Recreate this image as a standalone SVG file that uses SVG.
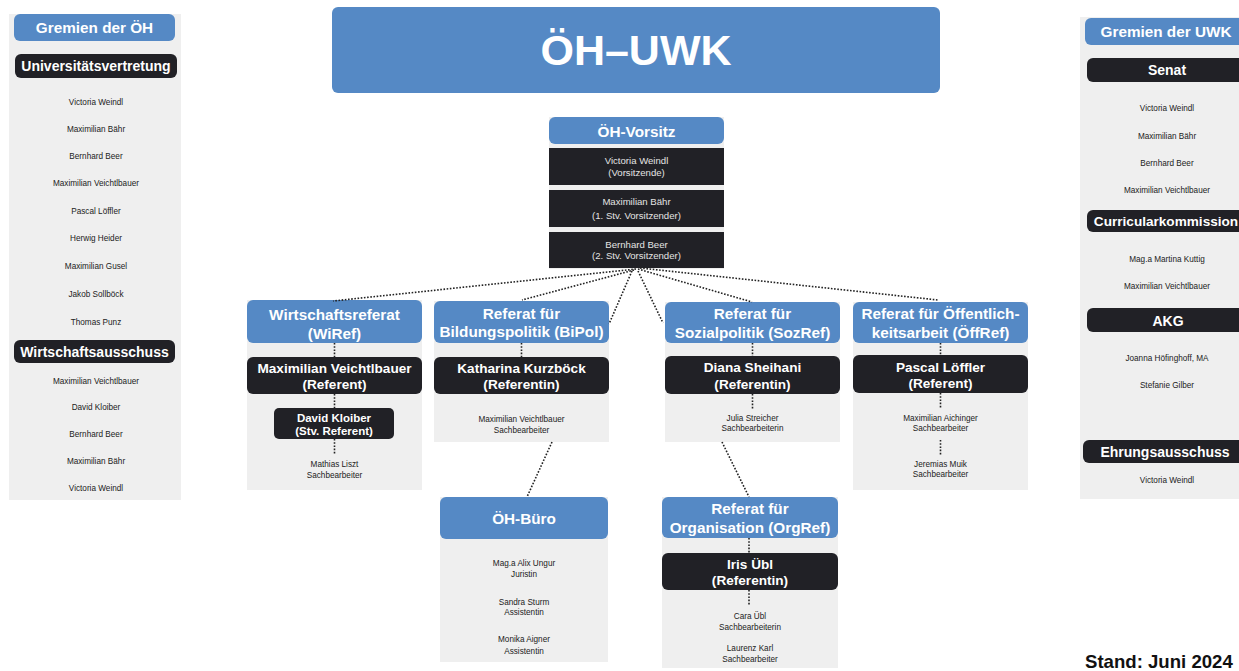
<svg xmlns="http://www.w3.org/2000/svg" width="1239" height="671" viewBox="0 0 1239 671">
<style>
.bg{fill:#efefef}
.blue{fill:#5589c5}
.dark{fill:#212126}
.ht{font-family:"Liberation Sans",Arial,sans-serif;font-weight:bold;fill:#fff;text-anchor:middle}
.hb{font-size:15.3px}
.hd{font-size:14px}
.rf{font-size:13.6px}
.st{font-size:11.5px}
.nm{font-family:"Liberation Sans",Arial,sans-serif;font-size:8.2px;fill:#222;text-anchor:middle}
.vt{font-family:"Liberation Sans",Arial,sans-serif;font-size:9.6px;fill:#e4e4e4;text-anchor:middle}
.dot{stroke:#222;stroke-width:1.6;stroke-dasharray:1.6 1.6;fill:none}
</style>
<rect width="1239" height="671" fill="#fff"/>

<g id="title">
<rect x="332" y="7" width="608" height="86" rx="6" class="blue"/>
<text x="636" y="65" class="ht" style="font-size:43px">ÖH–UWK</text>
</g>

<g id="gremien-oeh">
<rect x="9" y="14" width="172" height="486" class="bg"/>
<rect x="14" y="14" width="161" height="27" rx="6" class="blue"/>
<text x="94.5" y="33.3" class="ht hb">Gremien der ÖH</text>
<rect x="15" y="54" width="162" height="24" rx="6" class="dark"/>
<text x="96" y="70.7" class="ht hd">Universitätsvertretung</text>
<text x="96" y="104.5" class="nm">Victoria Weindl</text>
<text x="96" y="132" class="nm">Maximilian Bähr</text>
<text x="96" y="159" class="nm">Bernhard Beer</text>
<text x="96" y="186" class="nm">Maximilian Veichtlbauer</text>
<text x="96" y="213.5" class="nm">Pascal Löffler</text>
<text x="96" y="240.5" class="nm">Herwig Heider</text>
<text x="96" y="268.5" class="nm">Maximilian Gusel</text>
<text x="96" y="297" class="nm">Jakob Sollböck</text>
<text x="96" y="325" class="nm">Thomas Punz</text>
<rect x="14" y="340" width="161" height="23" rx="6" class="dark"/>
<text x="94.5" y="356.7" class="ht hd">Wirtschaftsausschuss</text>
<text x="96" y="383.5" class="nm">Maximilian Veichtlbauer</text>
<text x="96" y="410" class="nm">David Kloiber</text>
<text x="96" y="437" class="nm">Bernhard Beer</text>
<text x="96" y="464" class="nm">Maximilian Bähr</text>
<text x="96" y="490.5" class="nm">Victoria Weindl</text>
</g>

<g id="gremien-uwk">
<rect x="1080" y="17" width="170" height="482" class="bg"/>
<rect x="1085" y="18" width="165" height="27" rx="6" class="blue"/>
<text x="1166" y="36.7" class="ht hb">Gremien der UWK</text>
<rect x="1087" y="58" width="165" height="24" rx="6" class="dark"/>
<text x="1167" y="75" class="ht hd">Senat</text>
<text x="1167" y="111" class="nm">Victoria Weindl</text>
<text x="1167" y="139" class="nm">Maximilian Bähr</text>
<text x="1167" y="165.5" class="nm">Bernhard Beer</text>
<text x="1167" y="193" class="nm">Maximilian Veichtlbauer</text>
<rect x="1087" y="210" width="165" height="22" rx="6" class="dark"/>
<text x="1166" y="225.7" class="ht" style="font-size:13.6px">Curricularkommission</text>
<text x="1167" y="262" class="nm">Mag.a Martina Kuttig</text>
<text x="1167" y="288.5" class="nm">Maximilian Veichtlbauer</text>
<rect x="1087" y="308" width="165" height="24" rx="6" class="dark"/>
<text x="1168" y="325.7" class="ht hd">AKG</text>
<text x="1167" y="361" class="nm">Joanna Höfinghoff, MA</text>
<text x="1167" y="388" class="nm">Stefanie Gilber</text>
<rect x="1083" y="440" width="167" height="23" rx="6" class="dark"/>
<text x="1165" y="457.3" class="ht hd">Ehrungsausschuss</text>
<text x="1167" y="483" class="nm">Victoria Weindl</text>
</g>

<g id="vorsitz">
<rect x="549" y="117" width="175" height="152" class="bg"/>
<rect x="549" y="117" width="175" height="27" rx="6" class="blue"/>
<text x="636.5" y="136.5" class="ht hb">ÖH-Vorsitz</text>
<rect x="549" y="148" width="175" height="37" class="dark"/>
<text x="636.5" y="164" class="vt">Victoria Weindl</text>
<text x="636.5" y="175.5" class="vt">(Vorsitzende)</text>
<rect x="549" y="190" width="175" height="37" class="dark"/>
<text x="636.5" y="205" class="vt">Maximilian Bähr</text>
<text x="636.5" y="218.5" class="vt">(1. Stv. Vorsitzender)</text>
<rect x="549" y="232" width="175" height="36" class="dark"/>
<text x="636.5" y="247.5" class="vt">Bernhard Beer</text>
<text x="636.5" y="259" class="vt">(2. Stv. Vorsitzender)</text>
</g>

<g id="wiref">
<rect x="247" y="300" width="175" height="190" class="bg"/>
<rect x="247" y="300" width="175" height="43" rx="6" class="blue"/>
<text x="334.5" y="319.5" class="ht hb">Wirtschaftsreferat</text>
<text x="334.5" y="338.5" class="ht hb">(WiRef)</text>
<rect x="247" y="357" width="175" height="37" rx="6" class="dark"/>
<text x="334.5" y="373.3" class="ht rf">Maximilian Veichtlbauer</text>
<text x="334.5" y="389" class="ht rf">(Referent)</text>
<rect x="274" y="408" width="120" height="31" rx="5" class="dark"/>
<text x="334" y="421.5" class="ht st">David Kloiber</text>
<text x="334" y="435" class="ht st">(Stv. Referent)</text>
<text x="334.5" y="467" class="nm">Mathias Liszt</text>
<text x="334.5" y="477.5" class="nm">Sachbearbeiter</text>
</g>

<g id="bipol">
<rect x="434" y="301" width="175" height="141" class="bg"/>
<rect x="434" y="301" width="175" height="42" rx="6" class="blue"/>
<text x="521.5" y="318.5" class="ht hb">Referat für</text>
<text x="521.5" y="337" class="ht hb">Bildungspolitik (BiPol)</text>
<rect x="434" y="357" width="175" height="37" rx="6" class="dark"/>
<text x="521.5" y="372.5" class="ht rf">Katharina Kurzböck</text>
<text x="521.5" y="389.3" class="ht rf">(Referentin)</text>
<text x="521.5" y="422.3" class="nm">Maximilian Veichtlbauer</text>
<text x="521.5" y="433" class="nm">Sachbearbeiter</text>
</g>

<g id="sozref">
<rect x="665" y="302" width="175" height="140" class="bg"/>
<rect x="665" y="302" width="175" height="41" rx="6" class="blue"/>
<text x="752.5" y="319" class="ht hb">Referat für</text>
<text x="752.5" y="338" class="ht hb">Sozialpolitik (SozRef)</text>
<rect x="665" y="356" width="175" height="38" rx="6" class="dark"/>
<text x="752.5" y="372" class="ht rf">Diana Sheihani</text>
<text x="752.5" y="389" class="ht rf">(Referentin)</text>
<text x="752.5" y="421.3" class="nm">Julia Streicher</text>
<text x="752.5" y="431.3" class="nm">Sachbearbeiterin</text>
</g>

<g id="oeffref">
<rect x="853" y="302" width="175" height="188" class="bg"/>
<rect x="853" y="302" width="175" height="41" rx="6" class="blue"/>
<text x="940.5" y="319" class="ht hb">Referat für Öffentlich-</text>
<text x="940.5" y="338" class="ht hb">keitsarbeit (ÖffRef)</text>
<rect x="853" y="355" width="175" height="38" rx="6" class="dark"/>
<text x="940.5" y="371.5" class="ht rf">Pascal Löffler</text>
<text x="940.5" y="388.3" class="ht rf">(Referent)</text>
<text x="940.5" y="420.7" class="nm">Maximilian Aichinger</text>
<text x="940.5" y="431.3" class="nm">Sachbearbeiter</text>
<text x="940.5" y="467" class="nm">Jeremias Muik</text>
<text x="940.5" y="477.3" class="nm">Sachbearbeiter</text>
</g>

<g id="oeh-buero">
<rect x="440" y="497" width="168" height="165" class="bg"/>
<rect x="440" y="497" width="168" height="42" rx="6" class="blue"/>
<text x="524" y="523.8" class="ht hb">ÖH-Büro</text>
<text x="524" y="565.7" class="nm">Mag.a Alix Ungur</text>
<text x="524" y="577" class="nm">Juristin</text>
<text x="524" y="604.7" class="nm">Sandra Sturm</text>
<text x="524" y="615.3" class="nm">Assistentin</text>
<text x="524" y="642.3" class="nm">Monika Aigner</text>
<text x="524" y="653.7" class="nm">Assistentin</text>
</g>

<g id="orgref">
<rect x="662" y="497" width="176" height="171" class="bg"/>
<rect x="662" y="497" width="176" height="41" rx="6" class="blue"/>
<text x="750" y="514" class="ht hb">Referat für</text>
<text x="750" y="533" class="ht hb">Organisation (OrgRef)</text>
<rect x="662" y="553" width="176" height="37" rx="6" class="dark"/>
<text x="750" y="569" class="ht rf">Iris Übl</text>
<text x="750" y="585" class="ht rf">(Referentin)</text>
<text x="750" y="619" class="nm">Cara Übl</text>
<text x="750" y="629.5" class="nm">Sachbearbeiterin</text>
<text x="750" y="651.3" class="nm">Laurenz Karl</text>
<text x="750" y="661.5" class="nm">Sachbearbeiter</text>
</g>

<g id="connectors">
<path class="dot" d="M636 269 L333 301"/>
<path class="dot" d="M634 270 L522 300"/>
<path class="dot" d="M632 271 L609 324"/>
<path class="dot" d="M638 271 L663 323"/>
<path class="dot" d="M638 269 L752 302"/>
<path class="dot" d="M640 268 L938 300"/>
<path class="dot" d="M334.5 343 V357 M334.5 394 V408 M334.5 439 V455"/>
<path class="dot" d="M521.5 343 V357"/>
<path class="dot" d="M752.5 343 V356 M752.5 394 V409"/>
<path class="dot" d="M940.5 343 V355 M940.5 393 V408 M940.5 440 V455"/>
<path class="dot" d="M749 538 V553 M749 590 V606"/>
<path class="dot" d="M552 442 L527 497"/>
<path class="dot" d="M722 442 L749 497"/>
</g>

<g id="stand">
<text x="1085" y="668" style="font-family:'Liberation Sans',Arial,sans-serif;font-weight:bold;font-size:18.6px;fill:#111">Stand: Juni 2024</text>
</g>
</svg>
